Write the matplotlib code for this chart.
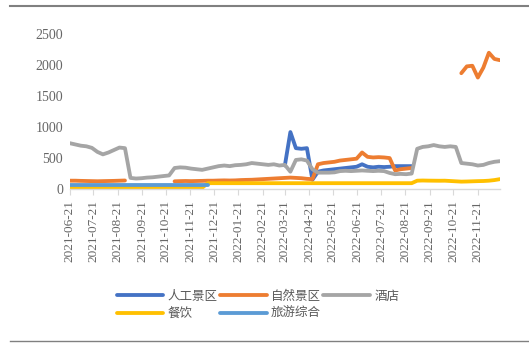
import numpy as np
import pandas as pd
import matplotlib
matplotlib.use('Agg')
import matplotlib.pyplot as plt
from matplotlib.lines import Line2D

plt.rcParams['font.family'] = ['Noto Sans CJK SC', 'DejaVu Sans']

nan = np.nan

# 周度数据：2021-06-21 起，共 79 周
dates = pd.date_range('2021-06-21', periods=79, freq='7D')

artificial = [nan] * 39 + [
    380, 920, 660, 650, 660, 150, 280, 300, 310, 320,
    330, 340, 350, 360, 400, 360, 350, 360, 355, 360,
    370, 370, 370, 370] + [nan] * 16

natural = [
    135, 135, 132, 130, 128, 126, 128, 130, 132, 135,
    138] + [nan] * 8 + [
    125, 128, 130, 128, 130, 132, 135, 135, 138, 140,
    138, 140, 145, 148, 150, 155, 160, 165, 170, 175,
    180, 185, 180, 175, 165, 160, 400, 420, 430, 440,
    460, 470, 480, 490, 590, 520, 510, 515, 510, 500,
    300, 320, 330, 340] + [nan] * 8 + [
    1870, 1980, 1990, 1800, 1960, 2200, 2100, 2080]

hotel = [
    740, 720, 700, 690, 665, 600, 560, 590, 630, 670,
    660, 180, 170, 175, 185, 190, 200, 210, 220, 340,
    350, 345, 330, 320, 310, 330, 350, 370, 380, 370,
    385, 390, 400, 420, 410, 400, 390, 400, 380, 390,
    280, 470, 480, 460, 320, 265, 265, 265, 270, 290,
    295, 290, 295, 300, 295, 290, 295, 290, 260, 240,
    245, 240, 250, 650, 680, 690, 710, 690, 680, 690,
    680, 420, 410, 400, 380, 390, 420, 440, 450]

dining = [
    20, 20, 20, 20, 20, 20, 20, 20, 20, 20,
    20, 20, 20, 20, 20, 20, 20, 20, 20, 20,
    20, 20, 20, 20, 20, 95, 95, 95, 95, 95,
    95, 95, 95, 95, 95, 95, 95, 95, 95, 95,
    95, 95, 95, 95, 95, 95, 95, 95, 95, 95,
    95, 95, 95, 95, 95, 95, 95, 95, 95, 95,
    95, 95, 95, 135, 138, 136, 135, 134, 135, 130,
    125, 120, 122, 125, 128, 130, 135, 145, 160]

tourism = [
    65, 65, 65, 65, 65, 65, 65, 65, 65, 65,
    65, 65, 65, 65, 65, 65, 65, 65, 65, 65,
    65, 65, 65, 65, 65, 65] + [nan] * 53

series = [
    ('人工景区', artificial, '#4472C4'),
    ('自然景区', natural, '#ED7D31'),
    ('酒店', hotel, '#A5A5A5'),
    ('餐饮', dining, '#FFC000'),
    ('旅游综合', tourism, '#5B9BD5'),
]

fig = plt.figure(figsize=(5.29, 3.45), dpi=100)
ax = fig.add_axes([0.132, 0.452, 0.813, 0.449])

lines = {}
for name, vals, color in series:
    ln, = ax.plot(dates, vals, color=color, linewidth=2.75, label=name,
                  solid_capstyle='round', solid_joinstyle='round')
    lines[name] = ln

ax.set_ylim(0, 2500)
ax.set_yticks(range(0, 2501, 500))
ax.set_xlim(pd.Timestamp('2021-06-21'), pd.Timestamp('2022-12-19'))

# 每月 21 日一个刻度
ticks = pd.date_range('2021-06-01', '2022-11-01', freq='MS') + pd.Timedelta(days=20)
ax.set_xticks(ticks)
ax.set_xticklabels([t.strftime('%Y-%m-%d') for t in ticks], rotation=90,
                   family='Liberation Serif', fontsize=9.5, color='#666666')
for lbl in ax.get_yticklabels():
    lbl.set_family('Liberation Serif')
ax.tick_params(axis='y', length=0, pad=5, labelsize=10, labelcolor='#666666')
ax.tick_params(axis='x', length=4, width=0.8, color='#D9D9D9', pad=4)

for side in ('left', 'right', 'top'):
    ax.spines[side].set_visible(False)
ax.spines['bottom'].set_color('#D9D9D9')
ax.spines['bottom'].set_linewidth(1.0)

# 图例按行排列：人工景区 自然景区 酒店 / 餐饮 旅游综合
order = ['人工景区', '餐饮', '自然景区', '旅游综合', '酒店']
fig.legend([lines[k] for k in order], order, ncol=3, frameon=False,
           loc='center', bbox_to_anchor=(0.488, 0.116), fontsize=9,
           handlelength=3.7, handletextpad=0.35, columnspacing=0.2,
           labelspacing=0.35, labelcolor='#595959')

# 上下分隔线
fig.add_artist(Line2D([0.019, 1.0], [0.983, 0.983], color='#808080', linewidth=1.5))
fig.add_artist(Line2D([0.019, 1.0], [0.012, 0.012], color='#808080', linewidth=1.0))

fig.savefig('out.png', dpi=100)
